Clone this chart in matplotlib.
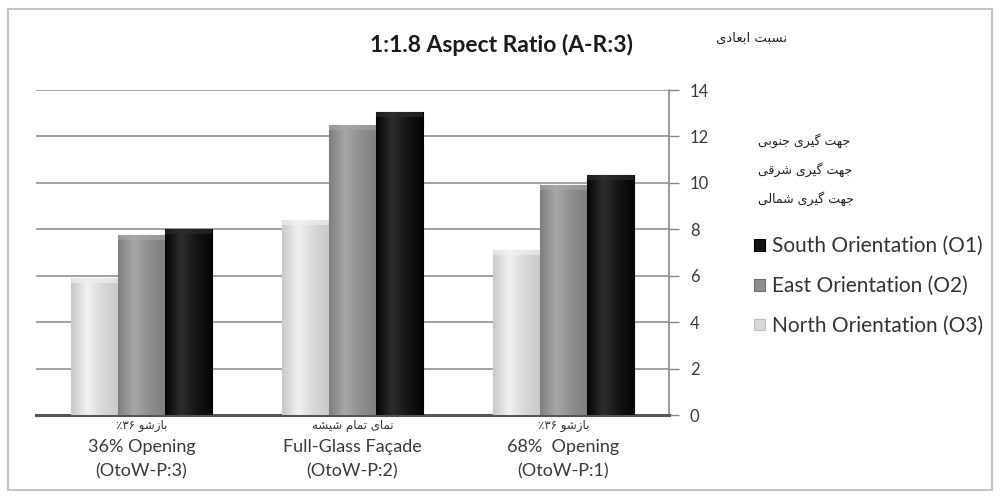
import numpy as np
import matplotlib
matplotlib.use("Agg")
import matplotlib.pyplot as plt
from matplotlib.patches import Rectangle
from matplotlib.colors import LinearSegmentedColormap

# ---------------- data ----------------
categories_fa_word = ["بازشو", "نمای تمام شیشه", "بازشو"]
categories_fa_num = ["\u066A\u06F3\u06F6", "", "\u066A\u06F3\u06F6"]   # ٪۳۶ (visual order)
categories_en = ["36% Opening\n(OtoW-P:3)", "Full-Glass Façade\n(OtoW-P:2)", "68%  Opening\n(OtoW-P:1)"]
series_names = ["North Orientation (O3)", "East Orientation (O2)", "South Orientation (O1)"]
north = [5.9, 8.4, 7.1]
east = [7.75, 12.5, 9.9]
south = [8.0, 13.05, 10.35]
yticks = [0, 2, 4, 6, 8, 10, 12, 14]
title = "1:1.8 Aspect Ratio (A-R:3)"
title_fa = "نسبت ابعادی"
orient_fa = ["جهت گیری جنوبی", "جهت گیری شرقی", "جهت گیری شمالی"]

# ------------- simple Persian shaping (presentation forms, visual order) -------------
FORMS = {
    'ا': ('\uFE8D', '\uFE8E', None, None),
    'ب': ('\uFE8F', '\uFE90', '\uFE91', '\uFE92'),
    'ت': ('\uFE95', '\uFE96', '\uFE97', '\uFE98'),
    'ج': ('\uFE9D', '\uFE9E', '\uFE9F', '\uFEA0'),
    'د': ('\uFEA9', '\uFEAA', None, None),
    'ر': ('\uFEAD', '\uFEAE', None, None),
    'ز': ('\uFEAF', '\uFEB0', None, None),
    'س': ('\uFEB1', '\uFEB2', '\uFEB3', '\uFEB4'),
    'ش': ('\uFEB5', '\uFEB6', '\uFEB7', '\uFEB8'),
    'ع': ('\uFEC9', '\uFECA', '\uFECB', '\uFECC'),
    'ق': ('\uFED5', '\uFED6', '\uFED7', '\uFED8'),
    'ل': ('\uFEDD', '\uFEDE', '\uFEDF', '\uFEE0'),
    'م': ('\uFEE1', '\uFEE2', '\uFEE3', '\uFEE4'),
    'ن': ('\uFEE5', '\uFEE6', '\uFEE7', '\uFEE8'),
    'ه': ('\uFEE9', '\uFEEA', '\uFEEB', '\uFEEC'),
    'و': ('\uFEED', '\uFEEE', None, None),
    'گ': ('\uFB92', '\uFB93', '\uFB94', '\uFB95'),
    'ی': ('\uFBFC', '\uFBFD', '\uFBFE', '\uFBFF'),
}


def shape_word(s):
    out = []
    n = len(s)
    for i, c in enumerate(s):
        if c not in FORMS:
            out.append(c)
            continue
        f = FORMS[c]
        prev = s[i - 1] if i > 0 else ''
        nxt = s[i + 1] if i < n - 1 else ''
        jp = prev in FORMS and FORMS[prev][2] is not None
        jn = f[2] is not None and nxt in FORMS
        if jp and jn:
            out.append(f[3])
        elif jp:
            out.append(f[1])
        elif jn:
            out.append(f[2])
        else:
            out.append(f[0])
    return ''.join(out)


def fa(s):
    """Logical Persian text -> visual (left-to-right) glyph string."""
    words = [shape_word(w)[::-1] for w in s.split(' ')]
    return ' '.join(words[::-1])


FA_FONT = ['DejaVu Sans']
EN_FONT = ['Lato', 'DejaVu Sans']
plt.rcParams['font.family'] = EN_FONT

W, H = 1003, 499
fig = plt.figure(figsize=(W / 100, H / 100), dpi=100)
ax = fig.add_axes([36 / W, 1 - 415 / H, (669 - 36) / W, (415 - 90) / H])

x = np.arange(len(categories_en))
w = 0.223
colors = ["#d8d8d8", "#8e8e8e", "#141414"]
edges = ["#bdbdbd", "#6e6e6e", "#000000"]
vals = [north, east, south]
containers = []
for k, (v, c, e, nm) in enumerate(zip(vals, colors, edges, series_names)):
    bc = ax.bar(x + (k - 1) * w, v, w, color=c, edgecolor=e, linewidth=0.8,
                label=nm, zorder=3)
    containers.append(bc)

# subtle horizontal gradient on each bar + top highlight
for bc, c in zip(containers, colors):
    base = np.array(matplotlib.colors.to_rgb(c))
    light = np.clip(base + 0.10, 0, 1)
    dark = np.clip(base - 0.06, 0, 1)
    cmap = LinearSegmentedColormap.from_list("g", [dark, light, base, dark])
    for p in bc.patches:
        x0, y0 = p.get_x(), p.get_y()
        im = ax.imshow(np.linspace(0, 1, 64).reshape(1, -1), cmap=cmap, aspect='auto',
                       extent=(x0, x0 + p.get_width(), y0, y0 + p.get_height()),
                       zorder=3.5, interpolation='bicubic')
        im.set_clip_path(p)
        ax.add_patch(Rectangle((x0, p.get_height() - 0.22), p.get_width(), 0.22,
                               facecolor=light, edgecolor='none', alpha=0.6, zorder=3.6))

ax.set_xlim(-0.5, 2.5)
ax.set_ylim(0, 14)
ax.set_yticks(yticks)
ax.yaxis.tick_right()
ax.tick_params(axis='y', direction='out', length=7, width=1, color='#888888',
               labelsize=12, labelcolor='#3a3a3a', pad=8)
ax.set_xticks([])
ax.grid(axis='y', color='#9a9a9a', linewidth=1.3, zorder=0)
for s in ['top', 'left']:
    ax.spines[s].set_visible(False)
ax.spines['right'].set_color('#8a8a8a')
ax.spines['right'].set_linewidth(1.2)
ax.spines['bottom'].set_color('#555555')
ax.spines['bottom'].set_linewidth(2.2)
ax.set_axisbelow(True)

# category labels
for xi, wd, num, le in zip(x, categories_fa_word, categories_fa_num, categories_en):
    lab = (num + ' ' + fa(wd)) if num else fa(wd)
    ax.annotate(lab, xy=(xi, 0), xycoords=('data', 'axes fraction'),
                xytext=(0, -7.5), textcoords='offset points', ha='center', va='center',
                fontsize=8.5, family=FA_FONT, color='#333333')
    ax.annotate(le, xy=(xi, 0), xycoords=('data', 'axes fraction'),
                xytext=(0, -17.5), textcoords='offset points', ha='center', va='top',
                fontsize=13, color='#3a3a3a', linespacing=1.6)

# titles
fig.text(502 / W, 1 - 45 / H, title, ha='center', va='center', fontsize=16.5,
         fontweight='bold', color='#1a1a1a')
fig.text(752 / W, 1 - 38 / H, fa(title_fa), ha='center', va='center', fontsize=9.5,
         family=FA_FONT, color='#222222')
for i, t in enumerate(orient_fa):
    fig.text(758 / W, 1 - (141 + 29 * i) / H, fa(t), ha='left', va='center',
             fontsize=9, family=FA_FONT, color='#222222')

handles = [containers[2], containers[1], containers[0]]
leg = fig.legend(handles, [series_names[2], series_names[1], series_names[0]],
                 loc='upper left', bbox_to_anchor=(746 / W, 1 - 228 / H), frameon=False,
                 fontsize=15, handlelength=0.5, handleheight=0.5, handletextpad=0.35,
                 labelspacing=0.95, borderaxespad=0)
for t in leg.get_texts():
    t.set_color('#333333')

# outer frame
fig.patches.append(Rectangle((8 / W, 1 - 490 / H), 984 / W, 481 / H, transform=fig.transFigure,
                             fill=False, edgecolor='#c4c4c4', linewidth=1.5))

fig.savefig("out.png", dpi=100)
